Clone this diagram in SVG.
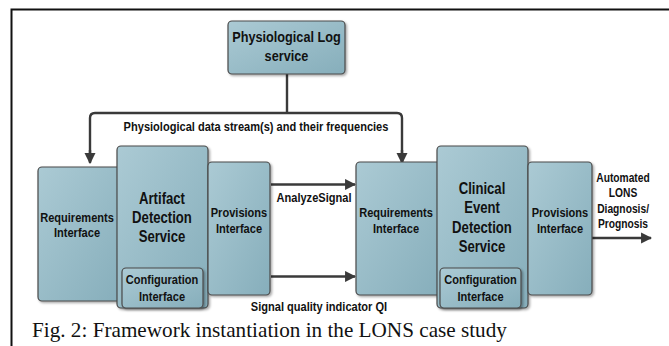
<svg xmlns="http://www.w3.org/2000/svg" width="669" height="346" viewBox="0 0 669 346">
  <defs>
    <linearGradient id="boxFill" x1="0" y1="0" x2="1" y2="1">
      <stop offset="0" stop-color="#abcad4"/>
      <stop offset="1" stop-color="#86aebb"/>
    </linearGradient>
    <filter id="shadow" x="-10%" y="-10%" width="130%" height="130%">
      <feDropShadow dx="1.5" dy="1.5" stdDeviation="0.8" flood-color="#000" flood-opacity="0.35"/>
    </filter>
    <marker id="arrow" viewBox="0 0 10 10" refX="9" refY="5" markerWidth="4.6" markerHeight="4.6" orient="auto" markerUnits="strokeWidth">
      <path d="M0,0 L10,5 L0,10 Z" fill="#3a3a3a"/>
    </marker>
  </defs>
  <style>
    .box { fill: url(#boxFill); stroke: #4a4a4a; stroke-width: 1.2; filter: url(#shadow); }
    /* condensed bold sans labels */
    .lbl { font-family: "Liberation Sans", Arial, sans-serif; font-weight: bold; fill: #111; text-anchor: middle;
           transform-box: fill-box; transform-origin: center; transform: scaleX(0.82); }
    .s13 { font-size: 13.5px; }
    .s16 { font-size: 16px; }
    .s15 { font-size: 15.5px; }
    .s12 { font-size: 12.5px; }
    .wire { fill: none; stroke: #3a3a3a; stroke-width: 2.4; }
    .caption { font-family: "Liberation Serif", "Times New Roman", serif; font-size: 21.2px; fill: #111; }
  </style>

  <rect width="669" height="346" fill="#fff"/>
  <!-- frame -->
  <path d="M11.5,346 V9.5 H669" fill="none" stroke="#111" stroke-width="2"/>

  <!-- connectors -->
  <g id="connectors">
    <path class="wire" d="M287,74 V113"/>
    <path class="wire" d="M90,162 V118 Q90,113 95,113 H397 Q402,113 402,118 V162"/>
    <path class="wire" d="M90,150 V163" marker-end="url(#arrow)"/>
    <path class="wire" d="M402,150 V163" marker-end="url(#arrow)"/>
    <path class="wire" d="M271,184.5 H355" marker-end="url(#arrow)"/>
    <path class="wire" d="M271,276.5 H355" marker-end="url(#arrow)"/>
    <path class="wire" d="M592,238 H651" marker-end="url(#arrow)"/>
    <text class="lbl s13" x="256" y="131">Physiological data stream(s) and their frequencies</text>
    <text class="lbl s13" x="314" y="202">AnalyzeSignal</text>
    <text class="lbl s13" x="319" y="311">Signal quality indicator QI</text>
    <text class="lbl s12" x="623" y="182">Automated</text>
    <text class="lbl s12" x="623" y="197">LONS</text>
    <text class="lbl s12" x="623" y="213">Diagnosis/</text>
    <text class="lbl s12" x="623" y="228">Prognosis</text>
  </g>

  <g id="log-service">
    <rect class="box" x="228" y="21" width="117" height="53" rx="4"/>
    <text class="lbl s15" x="286.5" y="42">Physiological Log</text>
    <text class="lbl s15" x="286.5" y="61">service</text>
  </g>

  <!-- artifact detection side -->
  <g id="artifact-requirements">
    <rect class="box" x="38" y="167" width="84" height="134" rx="4"/>
    <text class="lbl s13" x="77" y="222">Requirements</text>
    <text class="lbl s13" x="77" y="237">Interface</text>
  </g>
  <g id="artifact-service">
    <rect class="box" x="117" y="146" width="91" height="162" rx="4"/>
    <text class="lbl s16" x="162" y="204">Artifact</text>
    <text class="lbl s16" x="162" y="223">Detection</text>
    <text class="lbl s16" x="162" y="242">Service</text>
  </g>
  <g id="artifact-configuration">
    <rect class="box" x="122" y="268" width="81" height="40" rx="4"/>
    <text class="lbl s13" x="162" y="284">Configuration</text>
    <text class="lbl s13" x="162" y="301">Interface</text>
  </g>
  <g id="artifact-provisions">
    <rect class="box" x="208" y="162" width="62" height="133" rx="4"/>
    <text class="lbl s13" x="239" y="217">Provisions</text>
    <text class="lbl s13" x="239" y="233">Interface</text>
  </g>

  <!-- clinical event detection side -->
  <g id="clinical-requirements">
    <rect class="box" x="356" y="162" width="85" height="133" rx="4"/>
    <text class="lbl s13" x="396" y="217">Requirements</text>
    <text class="lbl s13" x="396" y="233">Interface</text>
  </g>
  <g id="clinical-service">
    <rect class="box" x="437" y="146" width="91" height="162" rx="4"/>
    <text class="lbl s16" x="482" y="194">Clinical</text>
    <text class="lbl s16" x="482" y="213">Event</text>
    <text class="lbl s16" x="482" y="233">Detection</text>
    <text class="lbl s16" x="482" y="252">Service</text>
  </g>
  <g id="clinical-configuration">
    <rect class="box" x="440" y="268" width="81" height="40" rx="4"/>
    <text class="lbl s13" x="480.5" y="284">Configuration</text>
    <text class="lbl s13" x="480.5" y="301">Interface</text>
  </g>
  <g id="clinical-provisions">
    <rect class="box" x="528" y="162" width="64" height="133" rx="4"/>
    <text class="lbl s13" x="560" y="217">Provisions</text>
    <text class="lbl s13" x="560" y="233">Interface</text>
  </g>

  <text class="caption" x="32" y="337">Fig. 2: Framework instantiation in the LONS case study</text>
</svg>
